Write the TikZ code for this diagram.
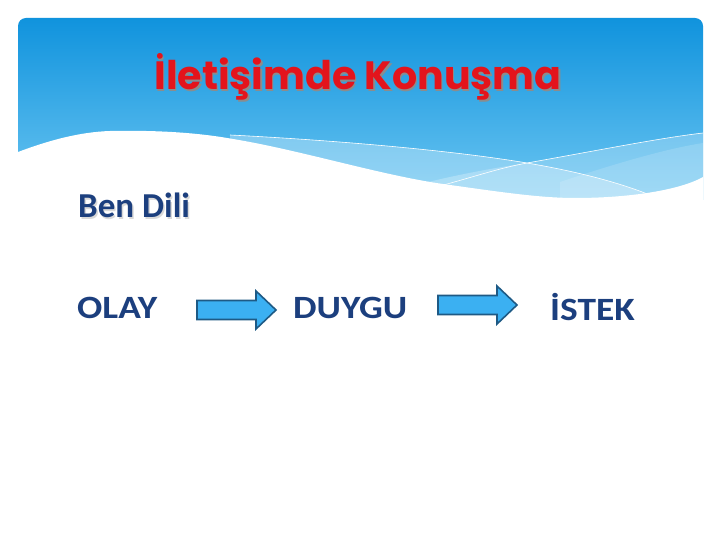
\documentclass[tikz,border=0pt]{standalone}
\usepackage{fontspec}
\usepackage{graphicx}
\usepackage{tikz}
\usetikzlibrary{positioning}
\newfontfamily\bodyfont{Carlito}
\newfontfamily\titlefont{Poppins}
\definecolor{headtop}{HTML}{1093DD}
\definecolor{headbot}{HTML}{6CC6F2}
\definecolor{wordblue}{HTML}{1C3F7E}
\definecolor{titlered}{HTML}{E3141C}
\definecolor{arrowfill}{HTML}{3BB0F2}
\definecolor{arrowline}{HTML}{1E5A85}
\newcommand{\shtext}[2]{\makebox[0pt][l]{\kern1.4pt\raisebox{-1.4pt}{\color{#1}#2}}#2}
\newcommand{\widetext}[1]{\scalebox{1.15}[1]{#1}}
\tikzset{
  word/.style={inner sep=0pt, anchor=base west, text=wordblue, font=\bodyfont\bfseries\fontsize{32.5}{36}\selectfont},
  arrowbox/.style={draw=arrowline, fill=arrowfill, line width=1.6pt, line join=miter},
  rarrow/.pic={\draw[arrowbox] (0,-9.5) -- (59,-9.5) -- (59,-19) -- (79,0) -- (59,19) -- (59,9.5) -- (0,9.5) -- cycle;}
}
\begin{document}
\begin{tikzpicture}[x=1pt, y=-1pt]
		\useasboundingbox[fill=white] (0,0) rectangle (720,540);
		
		% header band
		\begin{scope}
		\clip[rounded corners=8pt] (18,18) rectangle (703,215);
		\shade[top color=headtop, bottom color=headbot] (18,18) rectangle (703,200);
		\fill[white, opacity=.3] (230,135) .. controls (330,140) and (450,150) .. (527,163)
		.. controls (580,172) and (620,183) .. (650,195) -- (650,215) -- (230,215) -- cycle;
		\fill[white, opacity=.25] (380,195) .. controls (430,180) and (480,170) .. (527,163)
		.. controls (600,150) and (660,138) .. (703,133) -- (703,215) -- (380,215) -- cycle;
		\fill[white, opacity=.15] (560,182) .. controls (620,162) and (670,148) .. (703,143) -- (703,215) -- (560,215) -- cycle;
		\fill[white] (18,152) .. controls (50,140) and (80,132) .. (110,131)
		.. controls (160,130) and (200,133) .. (233,139)
		.. controls (300,150) and (380,175) .. (443,184)
		.. controls (500,192) and (540,198) .. (575,198)
		.. controls (630,198) and (680,190) .. (703,177) -- (703,215) -- (18,215) -- cycle;
		\draw[white, line width=.6pt] (230,135) .. controls (330,140) and (450,150) .. (527,163)
		.. controls (580,172) and (620,183) .. (650,195);
		\draw[white, line width=.6pt] (440,186) .. controls (480,175) and (500,168) .. (527,163)
		.. controls (600,150) and (660,138) .. (703,133);
		\end{scope}
		
		\node[inner sep=0pt, anchor=base, text=titlered, font=\titlefont\bfseries\fontsize{39.5}{44}\selectfont] (title) at (358,90) {\shtext{black!45}{İletişimde Konuşma}};
		
		\node[word, font=\bodyfont\bfseries\fontsize{35}{40}\selectfont] (bendili) at (78,218) {\shtext{black!15}{Ben Dili}};
		\node[word] (olay) at (77,318) {\widetext{OLAY}};
		\node[word] (duygu) at (293,318) {\widetext{DUYGU}};
		\node[word] (istek) at (550,320) {\widetext{İSTEK}};
		
		\pic at (197,310) {rarrow};
		\pic at (438,305) {rarrow};
		
		\end{tikzpicture}
\end{document}
